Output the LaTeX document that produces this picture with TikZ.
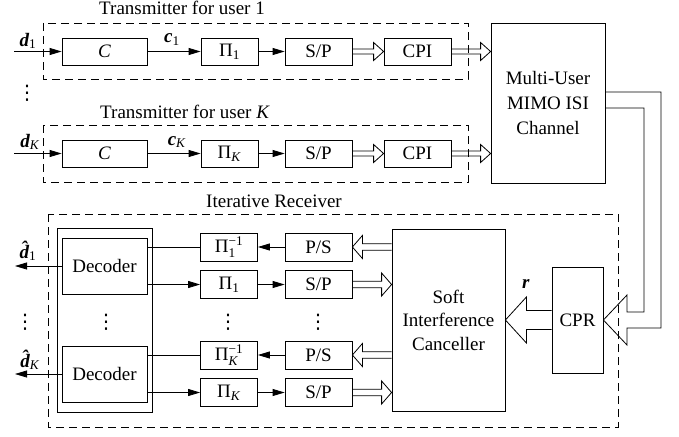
\documentclass[tikz,border=0pt]{standalone}
\usepackage{amsmath}
\usepackage{fontspec}
\setmainfont{Liberation Serif}
\newfontfamily\symfont{DejaVu Sans}
\usetikzlibrary{arrows.meta,calc}
\newcommand\hollowarrow[5]{%
 \draw[conn] let \p1=(#1), \p2=(#2), \n1={sign(\x2-\x1)} in
 (\x1,{\y2+#3}) -- ({\x2-(\n1)*#5},{\y2+#3}) -- ({\x2-(\n1)*#5},{\y2+#4}) -- (\x2,\y2)
 -- ({\x2-(\n1)*#5},{\y2-#4}) -- ({\x2-(\n1)*#5},{\y2-#3}) -- (\x1,{\y2-#3});}
\newcommand\myvdots{{\symfont\fontsize{20}{20}\selectfont ⋮}}
\newcommand\vecd{\text{\bfseries\itshape d}}
\newcommand\vecdhat{\text{\bfseries\itshape \^{d}}}
\newcommand\vecc{\text{\bfseries\itshape c}}
\newcommand\PI{\text{Π}}
\begin{document}
\begin{tikzpicture}[x=1pt,y=-1pt,
 every node/.style={font=\fontsize{19}{24}\selectfont},
 blk/.style={draw,line width=0.8pt,inner sep=0pt,minimum height=27pt},
 dbox/.style={draw,line width=0.8pt,dash pattern=on 8pt off 5pt},
 conn/.style={line width=0.8pt},
 arr/.style={line width=0.8pt,-{Triangle[length=12pt,width=7pt]}},
]
\useasboundingbox (0,0) rectangle (679,436);

% ---------- transmitters ----------
\draw[dbox] (43,23) rectangle (468,79);
\draw[dbox] (43,125) rectangle (468,182);
\node[anchor=base] (t1) at (182,15) {Transmitter for user 1};
\node[anchor=base] (tK) at (185,118) {Transmitter for user \textit{K}};

\node[blk,minimum width=85pt] (C1) at (104.5,51.5) {\textit{C}};
\node[blk,minimum width=57pt] (P1) at (229.5,51.5) {$\PI_{\text{1}}$};
\node[blk,minimum width=67pt] (SP1) at (318.5,51.5) {S/P};
\node[blk,minimum width=67pt] (CPI1) at (417.5,51.5) {CPI};

\node[blk,minimum width=85pt] (CK) at (104.5,153.5) {\textit{C}};
\node[blk,minimum width=57pt] (PK) at (229.5,153.5) {$\PI_{\text{\textit{K}}}$};
\node[blk,minimum width=67pt] (SPK) at (318.5,153.5) {S/P};
\node[blk,minimum width=67pt] (CPIK) at (417.5,153.5) {CPI};

\node[blk,minimum width=114pt,minimum height=160pt,align=center,font=\fontsize{19}{24.5}\selectfont] (ch) at (548,103) {Multi-User\\MIMO ISI\\Channel};

\coordinate (in1) at (14,51.5);
\coordinate (inK) at (14,153.5);
\draw[arr] (in1) -- (C1.west);
\draw[arr] (inK) -- (CK.west);
\node[anchor=base] (ld1) at (28,46) {$\vecd_{\text{1}}$};
\node[anchor=base] (ldK) at (30,147) {$\vecd_{\text{\textit{K}}}$};
\node[inner sep=0pt] (vd0) at (27,93) {\myvdots};

\draw[arr] (C1.east) -- (P1.west);
\draw[arr] (CK.east) -- (PK.west);
\node[anchor=base] (lc1) at (172,43) {$\vecc_{\text{1}}$};
\node[anchor=base] (lcK) at (177,145) {$\vecc_{\text{\textit{K}}}$};
\draw[arr] (P1.east) -- (SP1.west);
\draw[arr] (PK.east) -- (SPK.west);

\hollowarrow{SP1.east}{CPI1.west}{2.5pt}{9pt}{10pt}
\hollowarrow{SPK.east}{CPIK.west}{2.5pt}{9pt}{10pt}
\hollowarrow{CPI1.east}{ch.west |- CPI1.east}{2.5pt}{9pt}{10pt}
\hollowarrow{CPIK.east}{ch.west |- CPIK.east}{2.5pt}{9pt}{10pt}

% ---------- receiver ----------
\draw[dbox] (48,214) rectangle (618,427);
\node[anchor=base] (tr) at (274,207) {Iterative Receiver};

\node[draw,line width=0.8pt,inner sep=0pt,minimum width=95pt,minimum height=184pt] (decbox) at (104.5,320) {};
\node[blk,minimum width=85pt,minimum height=56pt] (dec1) at (104.5,266) {Decoder};
\node[blk,minimum width=85pt,minimum height=56pt] (decK) at (104.5,374) {Decoder};
\node[inner sep=0pt] (vd1) at (106,322) {\myvdots};

\node[blk,minimum width=57pt,minimum height=28pt] (Pi1i) at (229,247) {$\PI_{\text{1}}^{\text{−1}}$};
\node[blk,minimum width=57pt,minimum height=28pt] (Pi1) at (229,284.5) {$\PI_{\text{1}}$};
\node[blk,minimum width=57pt,minimum height=28pt] (PiKi) at (229,355) {$\PI_{\text{\textit{K}}}^{\text{−1}}$};
\node[blk,minimum width=57pt,minimum height=28pt] (PiK) at (229,392.5) {$\PI_{\text{\textit{K}}}$};
\node[inner sep=0pt] (vd2) at (228,322) {\myvdots};

\node[blk,minimum width=67pt,minimum height=28pt] (PS1) at (318.5,247) {P/S};
\node[blk,minimum width=67pt,minimum height=28pt] (SPr1) at (318.5,284.5) {S/P};
\node[blk,minimum width=67pt,minimum height=28pt] (PSK) at (318.5,355) {P/S};
\node[blk,minimum width=67pt,minimum height=28pt] (SPrK) at (318.5,392.5) {S/P};
\node[inner sep=0pt] (vd3) at (318,322) {\myvdots};

\node[blk,minimum width=113pt,minimum height=182pt,align=center,font=\fontsize{19}{23.5}\selectfont] (SIC) at (448.5,320) {Soft\\Interference\\Canceller};
\node[blk,minimum width=51pt,minimum height=106pt] (CPR) at (577.5,320) {CPR};

\draw[conn] (dec1.east |- Pi1i.west) -- (Pi1i.west);
\draw[arr] (dec1.east |- Pi1.west) -- (Pi1.west);
\draw[conn] (decK.east |- PiKi.west) -- (PiKi.west);
\draw[arr] (decK.east |- PiK.west) -- (PiK.west);

\draw[arr] (PS1.west) -- (Pi1i.east);
\draw[arr] (Pi1.east) -- (SPr1.west);
\draw[arr] (PSK.west) -- (PiKi.east);
\draw[arr] (PiK.east) -- (SPrK.west);

\hollowarrow{SIC.west |- PS1.east}{PS1.east}{3.3pt}{11.5pt}{10pt}
\hollowarrow{SPr1.east}{SIC.west |- SPr1.east}{3.3pt}{11.5pt}{10pt}
\hollowarrow{SIC.west |- PSK.east}{PSK.east}{3.3pt}{11.5pt}{10pt}
\hollowarrow{SPrK.east}{SIC.west |- SPrK.east}{3.3pt}{11.5pt}{10pt}

\hollowarrow{CPR.west}{SIC.east}{9.5pt}{23pt}{21pt}
\node[anchor=base] (lr) at (526,288) {\textbf{\textit{r}}};

\coordinate (o1) at (15,266);
\coordinate (oK) at (15,374);
\draw[arr] (dec1.west) -- (o1);
\draw[arr] (decK.west) -- (oK);
\node[anchor=base] (ldh1) at (28,258) {$\vecdhat_{\text{1}}$};
\node[anchor=base] (ldhK) at (30,367) {$\vecdhat_{\text{\textit{K}}}$};
\node[inner sep=0pt] (vd4) at (25,322) {\myvdots};

% ---------- channel to CPR ----------
\coordinate (ya) at (0,92);
\coordinate (yb) at (0,108);
\draw[conn] (ch.east |- ya) -- (661,92) -- (661,328) -- (627,328) -- (627,345) -- (CPR.east)
 -- (627,295) -- (627,312) -- (644,312) -- (644,108) -- (ch.east |- yb);
\end{tikzpicture}
\end{document}
